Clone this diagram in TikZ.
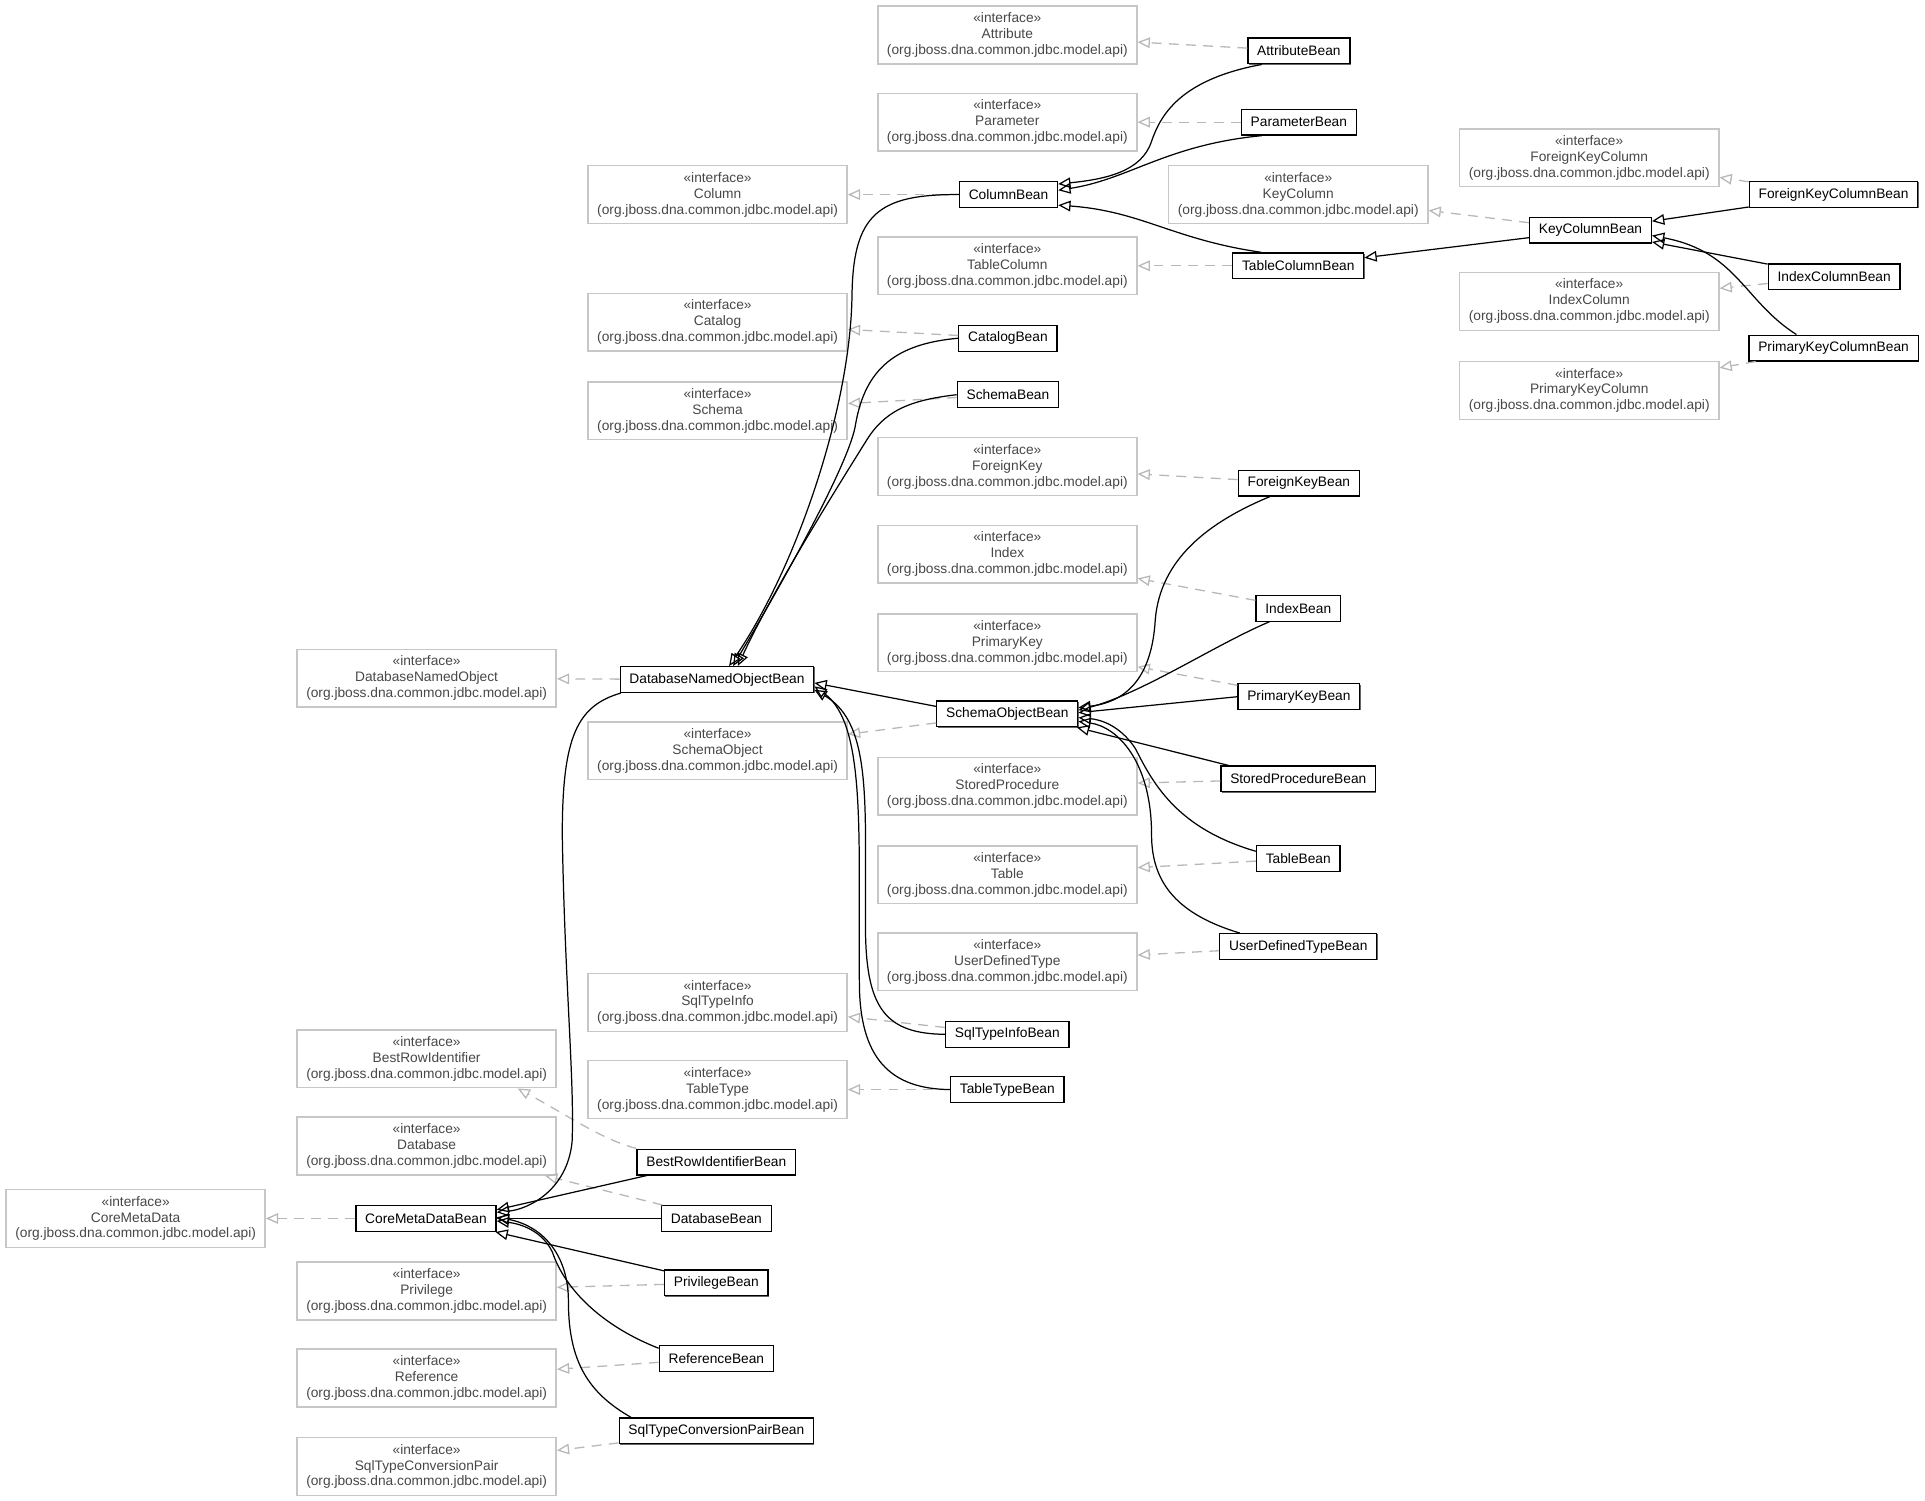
\documentclass[tikz,border=0pt]{standalone}
\usepackage{fontspec}
\setmainfont{Liberation Sans}
\usetikzlibrary{arrows.meta,shadows}

\tikzset{
  iface/.style={draw=black!22, line width=0.9pt, text=black!72, align=center,
    minimum width=158.25pt, minimum height=35.25pt, inner sep=0pt,
    font=\fontsize{8.4}{9.75}\selectfont},
  bean/.style={draw=black, line width=0.75pt, fill=white, minimum height=15.75pt,
    inner xsep=5.7pt, inner ysep=0pt, font=\fontsize{8.4}{9.75}\selectfont,
    drop shadow={shadow xshift=0.45pt, shadow yshift=-0.45pt, fill=black!60, opacity=1}},
  realize/.style={draw=black!28, line width=0.8pt, dash pattern=on 6pt off 4.5pt,
    -{Triangle[open, length=7.5pt, width=6.5pt]}},
  extends/.style={draw=black, line width=0.75pt,
    -{Triangle[open, length=7.5pt, width=6.5pt]}},
}
\newcommand{\apiname}[1]{«interface»\\#1\\(org.jboss.dna.common.jdbc.model.api)}

\begin{document}
\begin{tikzpicture}[x=0.75pt,y=0.75pt,yscale=-1,xscale=1]
\useasboundingbox (0,0) rectangle (1568,1222.5);

% Interfaces
\node[iface] (Attribute) at (820.5,28.5) {\apiname{Attribute}};
\node[iface] (Parameter) at (820.5,99.5) {\apiname{Parameter}};
\node[iface] (Column) at (584.5,158.5) {\apiname{Column}};
\node[iface] (ForeignKeyColumn) at (1294.5,128.5) {\apiname{ForeignKeyColumn}};
\node[iface] (KeyColumn) at (1057.5,158.5) {\apiname{KeyColumn}};
\node[iface] (TableColumn) at (820.5,216.5) {\apiname{TableColumn}};
\node[iface] (IndexColumn) at (1294.5,245.5) {\apiname{IndexColumn}};
\node[iface] (Catalog) at (584.5,262.5) {\apiname{Catalog}};
\node[iface] (PrimaryKeyColumn) at (1294.5,318) {\apiname{PrimaryKeyColumn}};
\node[iface] (Schema) at (584.5,334.5) {\apiname{Schema}};
\node[iface] (ForeignKey) at (820.5,380) {\apiname{ForeignKey}};
\node[iface] (Index) at (820.5,451.5) {\apiname{Index}};
\node[iface] (PrimaryKey) at (820.5,523.5) {\apiname{PrimaryKey}};
\node[iface] (DatabaseNamedObject) at (347.5,552.5) {\apiname{DatabaseNamedObject}};
\node[iface] (SchemaObject) at (584.5,611.5) {\apiname{SchemaObject}};
\node[iface] (StoredProcedure) at (820.5,640.5) {\apiname{StoredProcedure}};
\node[iface] (Table) at (820.5,712.5) {\apiname{Table}};
\node[iface] (UserDefinedType) at (820.5,783.5) {\apiname{UserDefinedType}};
\node[iface] (SqlTypeInfo) at (584.5,816.5) {\apiname{SqlTypeInfo}};
\node[iface] (BestRowIdentifier) at (347.5,862.5) {\apiname{BestRowIdentifier}};
\node[iface] (TableType) at (584.5,887.5) {\apiname{TableType}};
\node[iface] (Database) at (347.5,933.5) {\apiname{Database}};
\node[iface] (CoreMetaData) at (110.5,992.5) {\apiname{CoreMetaData}};
\node[iface] (Privilege) at (347.5,1051.5) {\apiname{Privilege}};
\node[iface] (Reference) at (347.5,1122.5) {\apiname{Reference}};
\node[iface] (SqlTypeConversionPair) at (347.5,1194.5) {\apiname{SqlTypeConversionPair}};

% Beans
\node[bean] (AttributeBean) at (1058,41.5) {AttributeBean};
\node[bean] (ParameterBean) at (1058,99.5) {ParameterBean};
\node[bean] (ColumnBean) at (821.5,158.5) {ColumnBean};
\node[bean] (ForeignKeyColumnBean) at (1493.5,158.5) {ForeignKeyColumnBean};
\node[bean] (KeyColumnBean) at (1295.5,187.5) {KeyColumnBean};
\node[bean] (TableColumnBean) at (1057.5,216.5) {TableColumnBean};
\node[bean] (IndexColumnBean) at (1494,225.5) {IndexColumnBean};
\node[bean] (PrimaryKeyColumnBean) at (1493.5,283.5) {PrimaryKeyColumnBean};
\node[bean] (CatalogBean) at (821,275.5) {CatalogBean};
\node[bean] (SchemaBean) at (821,321.5) {SchemaBean};
\node[bean] (ForeignKeyBean) at (1058,393.5) {ForeignKeyBean};
\node[bean] (IndexBean) at (1057.5,495.5) {IndexBean};
\node[bean] (DatabaseNamedObjectBean) at (584,553.5) {DatabaseNamedObjectBean};
\node[bean] (PrimaryKeyBean) at (1058,567.5) {PrimaryKeyBean};
\node[bean] (SchemaObjectBean) at (820.5,581.5) {SchemaObjectBean};
\node[bean] (StoredProcedureBean) at (1057.5,634.5) {StoredProcedureBean};
\node[bean] (TableBean) at (1057.5,699.5) {TableBean};
\node[bean] (UserDefinedTypeBean) at (1057.5,771) {UserDefinedTypeBean};
\node[bean] (SqlTypeInfoBean) at (820.5,842.5) {SqlTypeInfoBean};
\node[bean] (TableTypeBean) at (820.5,887.5) {TableTypeBean};
\node[bean] (BestRowIdentifierBean) at (583.5,946.5) {BestRowIdentifierBean};
\node[bean] (CoreMetaDataBean) at (347,992.5) {CoreMetaDataBean};
\node[bean] (DatabaseBean) at (583.5,992.5) {DatabaseBean};
\node[bean] (PrivilegeBean) at (583.5,1045) {PrivilegeBean};
\node[bean] (ReferenceBean) at (583.5,1106.5) {ReferenceBean};
\node[bean] (SqlTypeConversionPairBean) at (583.5,1165.5) {SqlTypeConversionPairBean};

% Realizations
\draw[realize] (AttributeBean) -- (Attribute);
\draw[realize] (ParameterBean) -- (Parameter);
\draw[realize] (ColumnBean) -- (Column);
\draw[realize] (ForeignKeyColumnBean) -- (ForeignKeyColumn);
\draw[realize] (KeyColumnBean) -- (KeyColumn);
\draw[realize] (TableColumnBean) -- (TableColumn);
\draw[realize] (IndexColumnBean) -- (IndexColumn);
\draw[realize] (PrimaryKeyColumnBean) -- (PrimaryKeyColumn);
\draw[realize] (CatalogBean) -- (Catalog);
\draw[realize] (SchemaBean) -- (Schema);
\draw[realize] (ForeignKeyBean) -- (ForeignKey);
\draw[realize] (IndexBean) -- (Index);
\draw[realize] (PrimaryKeyBean) -- (PrimaryKey);
\draw[realize] (DatabaseNamedObjectBean) -- (DatabaseNamedObject);
\draw[realize] (SchemaObjectBean) -- (SchemaObject);
\draw[realize] (StoredProcedureBean) -- (StoredProcedure);
\draw[realize] (TableBean) -- (Table);
\draw[realize] (UserDefinedTypeBean) -- (UserDefinedType);
\draw[realize] (SqlTypeInfoBean) -- (SqlTypeInfo);
\draw[realize] (TableTypeBean) -- (TableType);
\draw[realize] (BestRowIdentifierBean.north west) .. controls (490,928) and (465,910) .. (BestRowIdentifier.-18);
\draw[realize] (DatabaseBean) -- (Database);
\draw[realize] (CoreMetaDataBean) -- (CoreMetaData);
\draw[realize] (PrivilegeBean) -- (Privilege);
\draw[realize] (ReferenceBean) -- (Reference);
\draw[realize] (SqlTypeConversionPairBean) -- (SqlTypeConversionPair);

% Generalizations: column branch
\draw[extends] (AttributeBean.-160) .. controls (960,65) and (945,95) .. (938,115) .. controls (930,140) and (900,146) .. (ColumnBean.12);
\draw[extends] (ParameterBean.-160) .. controls (950,118) and (920,146) .. (ColumnBean.5);
\draw[extends] (TableColumnBean.160) .. controls (955,195) and (930,172) .. (ColumnBean.-12);
\draw[extends] (KeyColumnBean) -- (TableColumnBean);
\draw[extends] (ForeignKeyColumnBean) -- (KeyColumnBean);
\draw[extends] (IndexColumnBean) -- (KeyColumnBean);
\draw[extends] (PrimaryKeyColumnBean.160) .. controls (1420,245) and (1415,205) .. (KeyColumnBean.-5);

% Generalizations: named objects
\draw[extends] (ColumnBean.west) .. controls (715,158) and (695,175) .. (694,240) .. controls (693,330) and (650,460) .. (DatabaseNamedObjectBean.48);
\draw[extends] (CatalogBean.west) .. controls (730,280) and (705,300) .. (697,345) .. controls (693,375) and (640,470) .. (DatabaseNamedObjectBean.40);
\draw[extends] (SchemaBean.west) .. controls (740,326) and (720,335) .. (705,360) .. controls (680,400) and (630,480) .. (DatabaseNamedObjectBean.33);
\draw[extends] (SchemaObjectBean.174) -- (DatabaseNamedObjectBean.-2);
\draw[extends] (SqlTypeInfoBean.west) .. controls (722,842) and (706,822) .. (705,760) .. controls (704,660) and (712,590) .. (DatabaseNamedObjectBean.-6);
\draw[extends] (TableTypeBean.west) .. controls (725,887) and (700,862) .. (700,800) .. controls (699,680) and (706,590) .. (DatabaseNamedObjectBean.-4);

% Generalizations: schema objects
\draw[extends] (ForeignKeyBean.-155) .. controls (985,425) and (945,455) .. (941,505) .. controls (938,555) and (915,572) .. (SchemaObjectBean.5);
\draw[extends] (IndexBean.-155) .. controls (990,525) and (930,565) .. (SchemaObjectBean.3);
\draw[extends] (PrimaryKeyBean.west) -- (SchemaObjectBean.1);
\draw[extends] (StoredProcedureBean.169) -- (SchemaObjectBean.-11);
\draw[extends] (TableBean.170) .. controls (960,675) and (940,640) .. (925,610) .. controls (912,590) and (895,586) .. (SchemaObjectBean.-3);
\draw[extends] (UserDefinedTypeBean.167) .. controls (960,745) and (938,720) .. (938,680) .. controls (938,620) and (910,592) .. (SchemaObjectBean.-6);

% Generalizations: core metadata
\draw[extends] (DatabaseNamedObjectBean.-172) .. controls (470,575) and (458,600) .. (458,680) .. controls (460,800) and (468,880) .. (466,930) .. controls (462,970) and (430,985) .. (CoreMetaDataBean.5);
\draw[extends] (BestRowIdentifierBean.-169) -- (CoreMetaDataBean.7);
\draw[extends] (DatabaseBean) -- (CoreMetaDataBean);
\draw[extends] (PrivilegeBean.167) -- (CoreMetaDataBean.-11);
\draw[extends] (ReferenceBean.170) .. controls (490,1080) and (460,1050) .. (450,1020) .. controls (442,1003) and (425,997) .. (CoreMetaDataBean.-2);
\draw[extends] (SqlTypeConversionPairBean.171) .. controls (480,1135) and (463,1110) .. (463,1060) .. controls (463,1020) and (440,998) .. (CoreMetaDataBean.1);
\end{tikzpicture}
\end{document}
